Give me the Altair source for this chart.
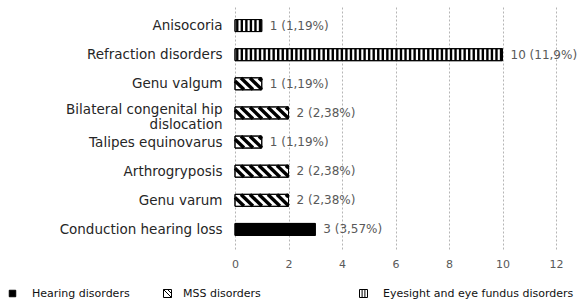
import json
import textwrap
import altair as alt
import pandas as pd

# ---------------- data ----------------
categories = [
    "Anisocoria",
    "Refraction disorders",
    "Genu valgum",
    "Bilateral congenital hip dislocation",
    "Talipes equinovarus",
    "Arthrogryposis",
    "Genu varum",
    "Conduction hearing loss",
]
counts = [1, 10, 1, 2, 1, 2, 2, 3]
percents = [1.19, 11.9, 1.19, 2.38, 1.19, 2.38, 2.38, 3.57]
EYE = "Eyesight and eye fundus disorders"
MSS = "MSS disorders"
HEAR = "Hearing disorders"
groups = [EYE, EYE, MSS, MSS, MSS, MSS, MSS, HEAR]
x_ticks = [0, 2, 4, 6, 8, 10, 12]

df = pd.DataFrame({
    "row": list(range(len(categories))),
    "category": categories,
    "value": counts,
    "group": groups,
    "label": [f"{c} ({str(p).replace('.', ',')}%)" for c, p in zip(counts, percents)],
})

# ---------------- styling ----------------
FONT = "DejaVu Sans"
BAR_PX = 12
HALF = 0.1975      # half bar height in row units
SLANT = 0.449      # 45 degree slant in x units
DPERIOD = 0.336    # diagonal hatch period
VPERIOD = 0.17     # vertical hatch period

wrapped = [textwrap.wrap(c, 24) for c in categories]
label_expr = json.dumps(wrapped) + "[datum.value]"

xs = alt.Scale(domain=[0, 12], nice=False, zero=False)
ys = alt.Scale(domain=[-0.5, len(categories) - 0.5], nice=False, zero=False, reverse=True)

xaxis = alt.Axis(values=x_ticks, format="d", grid=True, gridDash=[2, 2], gridColor="#b5b5b5",
                 gridWidth=1, ticks=False, domain=False, labelPadding=9, labelFontSize=11,
                 labelFont=FONT, labelColor="#595959", labelFlush=False, title=None)
yaxis = alt.Axis(values=list(range(len(categories))), labelExpr=label_expr, grid=False,
                 ticks=False, domain=False, labelPadding=13, labelFontSize=13.5,
                 labelFont=FONT, labelColor="#262626", labelOverlap=False, labelFlush=False,
                 labelLineHeight=15,
                 labelOffset={"condition": {"test": "datum.value == 3", "value": -3}, "value": 0},
                 title=None)

base = alt.Chart(df)

SQ = "M-1,-1H1V1H-1Z"
legend_common = dict(title=None, orient="none", labelFontSize=11, labelFont=FONT,
                     labelColor="#111111", padding=0, symbolStrokeWidth=1, labelLimit=400)


def bar_layer(g, fill, path, lx, loff, size):
    return base.transform_filter(alt.datum.group == g).mark_bar(
        orient="horizontal", height=BAR_PX, stroke="black", strokeWidth=1
    ).encode(
        x=alt.X("value:Q", scale=xs, axis=xaxis),
        y=alt.Y("row:Q", scale=ys, axis=yaxis),
        color=alt.Color("group:N", scale=alt.Scale(domain=[g], range=[fill]),
                        legend=alt.Legend(legendX=lx, legendY=282, symbolType=path,
                                          labelOffset=loff, symbolSize=size,
                                          **legend_common)),
    )


bars_hear = bar_layer(HEAR, "black", SQ, -228, 14, 42)
bars_mss = bar_layer(MSS, "white", SQ + " M-1,-1L1,1 M0,-1L1,0", -73, 10, 64)
bars_eye = bar_layer(EYE, "white", SQ + " M-0.35,-1V1 M0.35,-1V1", 123, 14, 64)

vstripes = base.transform_filter(alt.datum.group == EYE).transform_calculate(
    s=f"sequence(0, datum.value, {VPERIOD})"
).transform_flatten(["s"]).transform_calculate(
    sx=f"datum.s + {VPERIOD / 2}"
).transform_filter("datum.sx < datum.value").mark_tick(
    orient="vertical", size=BAR_PX, thickness=2.4, color="black", opacity=1
).encode(
    x=alt.X("sx:Q", scale=xs, axis=xaxis),
    y=alt.Y("row:Q", scale=ys, axis=yaxis),
)

dstripes = base.transform_filter(alt.datum.group == MSS).transform_calculate(
    s=f"sequence({-SLANT}, datum.value, {DPERIOD})"
).transform_flatten(["s"]).transform_calculate(
    t0=f"max(0, -datum.s / {SLANT})",
    t1=f"min(1, (datum.value - datum.s) / {SLANT})",
).transform_filter("datum.t1 > datum.t0").transform_calculate(
    xa=f"datum.s + datum.t0 * {SLANT}",
    xb=f"datum.s + datum.t1 * {SLANT}",
    ya=f"datum.row - {HALF} + datum.t0 * {2 * HALF}",
    yb=f"datum.row - {HALF} + datum.t1 * {2 * HALF}",
).mark_rule(strokeWidth=3.4, color="black", strokeCap="butt").encode(
    x=alt.X("xa:Q", scale=xs, axis=xaxis),
    x2="xb:Q",
    y=alt.Y("ya:Q", scale=ys, axis=yaxis),
    y2="yb:Q",
)

outline = base.mark_bar(orient="horizontal", height=BAR_PX, fill="transparent",
                        stroke="black", strokeWidth=1).encode(
    x=alt.X("value:Q", scale=xs, axis=xaxis),
    y=alt.Y("row:Q", scale=ys, axis=yaxis),
)

labels = base.mark_text(align="left", baseline="middle", dx=8, fontSize=12,
                        font=FONT, color="#595959").encode(
    x=alt.X("value:Q", scale=xs, axis=xaxis),
    y=alt.Y("row:Q", scale=ys, axis=yaxis),
    text="label:N",
)

chart = alt.layer(
    bars_hear, bars_mss, bars_eye, vstripes, dstripes, outline, labels
).resolve_scale(color="independent").resolve_legend(color="independent").properties(
    width=321,
    height=243,
    padding={"left": 235, "top": 6, "right": 22, "bottom": 59},
    autosize=alt.AutoSizeParams(type="none"),
    background="white",
).configure_view(stroke=None)

chart.save("out.html", embed_options={"renderer": "svg", "actions": False})
